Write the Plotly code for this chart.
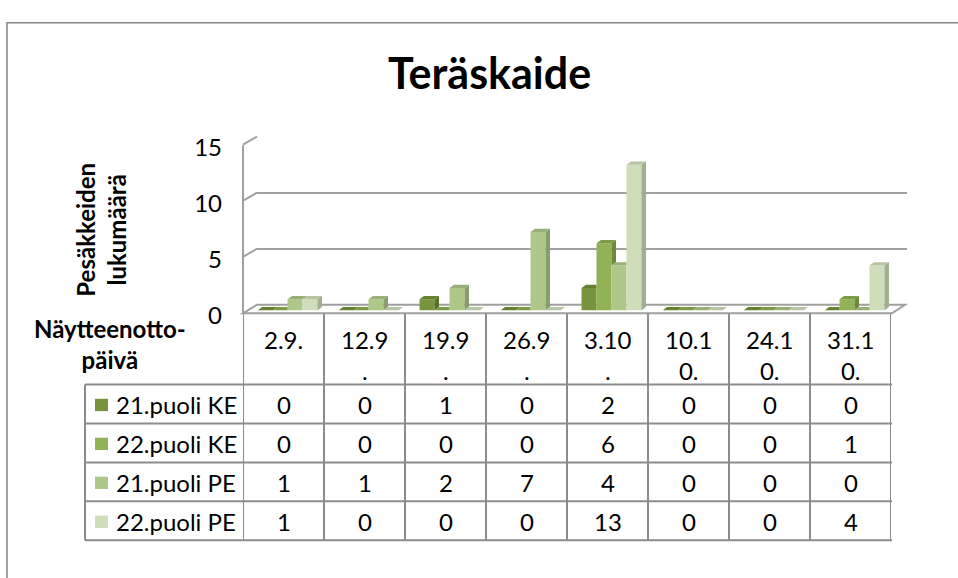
import plotly.graph_objects as go

# ---------------- data ----------------
title = "Teräskaide"
categories = ["2.9.", "12.9.", "19.9.", "26.9.", "3.10.", "10.10.", "24.10.", "31.10."]
series_names = ["21.puoli KE", "22.puoli KE", "21.puoli PE", "22.puoli PE"]
ke21 = [0, 0, 1, 0, 2, 0, 0, 0]
ke22 = [0, 0, 0, 0, 6, 0, 0, 1]
pe21 = [1, 1, 2, 7, 4, 0, 0, 0]
pe22 = [1, 0, 0, 0, 13, 0, 0, 4]
y_ticks = [0, 5, 10, 15]
y_title = "Pesäkkeiden<br>lukumäärä"
x_title = "Näytteenotto-<br>päivä"

series_values = [ke21, ke22, pe21, pe22]
front_colors = ["#77933C", "#92B256", "#AEC88A", "#D0DDBB"]
top_colors = ["#66802F", "#7D9A45", "#99AF78", "#B8C5A5"]
side_colors = ["#5A7229", "#6E883C", "#8A9E6C", "#A1AF90"]

# ---------------- geometry helpers ----------------
W, H = 958, 578
FONT = "Lato"
GRID = "#A0A0A0"
TABLE = "#8C8C8C"


def px(x):
    return x / W


def py(y):
    return 1 - y / H


idx = list(range(len(categories)))
n_series = len(series_values)
bargap = 0.26
ymax = 15

fig = go.Figure()

# invisible anchor traces so all axis pairs exist
for xa, ya in (("x", "y"), ("x3", "y3")):
    fig.add_trace(go.Scatter(x=[0], y=[0], xaxis=xa, yaxis=ya, mode="markers",
                             marker=dict(opacity=0), hoverinfo="skip", showlegend=False))

# front faces of bars
for name, vals, col in zip(series_names, series_values, front_colors):
    fig.add_trace(go.Bar(x=idx, y=vals, name=name, xaxis="x2", yaxis="y2",
                         marker=dict(color=col, line=dict(width=0)), showlegend=False,
                         hoverinfo="skip"))

# 3D depth faces (tops / sides) in the bar axes' data coordinates
bw = (1 - bargap) / n_series
dx = 4.5 / 81.0            # depth in category units
dy = 3.5 / (177.0 / ymax)  # depth in value units
for s, vals in enumerate(series_values):
    sx, sy, tx, ty = [], [], [], []
    for c in idx:
        h = vals[c]
        x0 = c - (1 - bargap) / 2 + s * bw
        x1 = x0 + bw
        nxt = series_values[s + 1][c] if s + 1 < n_series else 0
        lo = nxt if s + 1 < n_series else 0
        if h > lo or (s + 1 == n_series and h > 0):
            sx += [x1, x1, x1 + dx, x1 + dx, None]
            sy += [lo, h, h + dy, lo + dy, None]
        if s + 1 < n_series and nxt > h:
            tx += [x0, x1, x1, x0 + dx, None]
            ty += [h, h, h + dy, h + dy, None]
        else:
            tx += [x0, x1, x1 + dx, x0 + dx, None]
            ty += [h, h, h + dy, h + dy, None]
    fig.add_trace(go.Scatter(x=sx, y=sy, xaxis="x2", yaxis="y2", mode="lines",
                             fill="toself", fillcolor=side_colors[s],
                             line=dict(width=0, color=side_colors[s]),
                             hoverinfo="skip", showlegend=False))
    fig.add_trace(go.Scatter(x=tx, y=ty, xaxis="x2", yaxis="y2", mode="lines",
                             fill="toself", fillcolor=top_colors[s],
                             line=dict(width=0, color=top_colors[s]),
                             hoverinfo="skip", showlegend=False))

shapes = []
annotations = []

# outer chart frame
shapes.append(dict(type="rect", xref="paper", yref="paper", x0=px(7), x1=1.05,
                   y0=-0.05, y1=py(7), line=dict(color="#868686", width=1.5),
                   fillcolor="rgba(0,0,0,0)", layer="below"))

# floor and left wall edge
shapes.append(dict(type="path", xref="paper", yref="paper", layer="below",
                   path=f"M {px(243)},{py(313)} L {px(892)},{py(313)} L {px(905)},{py(304)} "
                        f"L {px(257)},{py(304)} Z",
                   fillcolor="white", line=dict(color=GRID, width=2)))
shapes.append(dict(type="line", xref="paper", yref="paper", layer="below",
                   x0=px(243), x1=px(243), y0=py(313), y1=py(136),
                   line=dict(color=GRID, width=2)))
for t in y_ticks[1:]:
    yb = 304 - t * (177.0 / ymax)
    shapes.append(dict(type="line", xref="paper", yref="paper", layer="below",
                       x0=px(243), x1=px(257), y0=py(yb + 8.5), y1=py(yb),
                       line=dict(color=GRID, width=2)))

# ---------------- data table ----------------
row_edges = [388, 429, 470, 511, 552]
for i in range(len(categories) + 1):
    shapes.append(dict(type="line", xref="x3", yref="paper", x0=i - 0.5, x1=i - 0.5,
                       y0=py(313), y1=py(552), line=dict(color=TABLE, width=2)))
shapes.append(dict(type="line", xref="paper", yref="paper", x0=px(85), x1=px(85),
                   y0=py(388), y1=py(552), line=dict(color=TABLE, width=2)))
for r in row_edges:
    shapes.append(dict(type="line", xref="paper", yref="paper", x0=px(85), x1=px(892),
                       y0=py(r), y1=py(r), line=dict(color=TABLE, width=2)))

for c, lab in zip(idx, categories):
    txt = lab[:4] + ("<br>" + lab[4:] if len(lab) > 4 else "")
    annotations.append(dict(x=c, y=py(323), xref="x3", yref="paper", text=txt,
                            showarrow=False, xanchor="center", yanchor="top",
                            align="center", font=dict(family=FONT, size=24, color="black")))

for r, (name, vals, col) in enumerate(zip(series_names, series_values, front_colors)):
    yc = (row_edges[r] + row_edges[r + 1]) / 2 + 1
    shapes.append(dict(type="rect", xref="paper", yref="paper", x0=px(95), x1=px(108),
                       y0=py(yc + 6.5), y1=py(yc - 6.5), fillcolor=col, line=dict(width=0)))
    annotations.append(dict(x=px(114), y=py(yc), xref="paper", yref="paper", text=name,
                            showarrow=False, xanchor="left", yanchor="middle",
                            font=dict(family=FONT, size=24, color="black")))
    for c, v in zip(idx, vals):
        annotations.append(dict(x=c, y=py(yc), xref="x3", yref="paper", text=str(v),
                                showarrow=False, xanchor="center", yanchor="middle",
                                font=dict(family=FONT, size=24, color="black")))

annotations.append(dict(x=px(489), y=py(60), xref="paper", yref="paper",
                        text=f"<b>{title}</b>", showarrow=False, xanchor="center",
                        yanchor="middle", font=dict(family=FONT, size=43, color="black")))
annotations.append(dict(x=px(101), y=py(225), xref="paper", yref="paper",
                        text=f"<b>{y_title}</b>", showarrow=False, textangle=-90,
                        xanchor="center", yanchor="middle",
                        font=dict(family=FONT, size=24, color="black")))
annotations.append(dict(x=px(110), y=py(345), xref="paper", yref="paper",
                        text=f"<b>{x_title}</b>", showarrow=False, xanchor="center",
                        yanchor="middle", align="center",
                        font=dict(family=FONT, size=24, color="black")))

fig.update_layout(
    width=W, height=H,
    margin=dict(l=0, r=0, t=0, b=0),
    paper_bgcolor="white", plot_bgcolor="rgba(0,0,0,0)",
    barmode="group", bargap=bargap, bargroupgap=0,
    showlegend=False,
    shapes=shapes, annotations=annotations,
    xaxis=dict(domain=[px(257), px(907)], range=[0, 1], visible=False, anchor="y"),
    yaxis=dict(domain=[py(304), py(127)], range=[0, ymax], anchor="x",
               tickvals=y_ticks, showticklabels=False, showgrid=True,
               gridcolor=GRID, gridwidth=2, zeroline=False, showline=False, ticks=""),
    xaxis2=dict(domain=[px(247), px(895)], range=[-0.5, 7.5], visible=False, anchor="y2"),
    yaxis2=dict(domain=[py(310), py(133)], range=[0, ymax], visible=False, anchor="x2"),
    xaxis3=dict(domain=[px(243), px(891)], range=[-0.5, 7.5], visible=False, anchor="y3"),
    yaxis3=dict(domain=[py(315), py(139)], range=[0, ymax], anchor="free",
                position=px(222), tickvals=y_ticks, showgrid=False, zeroline=False,
                showline=False, ticks="",
                tickfont=dict(family=FONT, size=24, color="black")),
)

fig.write_html("out.html", config={"responsive": False, "displayModeBar": False},
               post_script="document.body.style.margin='0';"
                           "document.body.style.overflow='hidden';")
